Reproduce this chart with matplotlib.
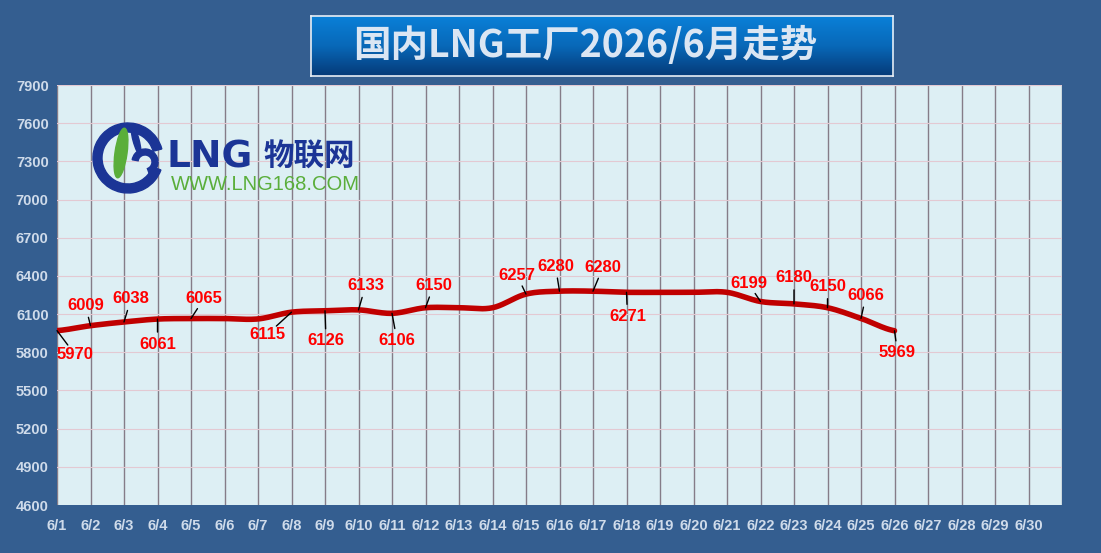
import numpy as np
import matplotlib
matplotlib.use("Agg")
import matplotlib.pyplot as plt
from matplotlib.patches import Wedge, Ellipse
from matplotlib.colors import LinearSegmentedColormap

days = [f"6/{d}" for d in range(1, 31)]
prices = [5970, 6009, 6038, 6061, 6065, 6065, 6062, 6115, 6126, 6133,
          6106, 6150, 6150, 6150, 6257, 6280, 6280, 6271, 6271, 6271,
          6271, 6199, 6180, 6150, 6066, 5969]
yticks = list(range(4600, 8000, 300))

# labelled points: index -> text offset in pixels
label_idx = [0, 1, 2, 3, 4, 7, 8, 9, 10, 11, 14, 15, 16, 17, 21, 22, 23, 24, 25]
label_off = {0: (18, -24), 1: (-5, 20), 2: (7, 23), 3: (0, -25), 4: (13, 20),
             7: (-24, -22), 8: (1, -30), 9: (7, 24), 10: (5, -27), 11: (8, 22),
             14: (-9, 19), 15: (-4, 25), 16: (10, 24), 17: (1, -24),
             21: (-12, 18), 22: (0, 26), 23: (0, 21), 24: (5, 23), 25: (3, -22)}

BG = "#345e90"
FACE = "#ddeff4"


def smooth(y, n=20):
    # Catmull-Rom spline through the points
    y = np.asarray(y, float)
    p = np.concatenate([[y[0]], y, [y[-1]]])
    xs, ys = [], []
    for i in range(len(y) - 1):
        p0, p1, p2, p3 = p[i], p[i + 1], p[i + 2], p[i + 3]
        t = np.linspace(0, 1, n, endpoint=False)
        v = 0.5 * ((2 * p1) + (-p0 + p2) * t + (2 * p0 - 5 * p1 + 4 * p2 - p3) * t ** 2
                   + (-p0 + 3 * p1 - 3 * p2 + p3) * t ** 3)
        xs.append(i + t)
        ys.append(v)
    xs.append([len(y) - 1])
    ys.append([y[-1]])
    return np.concatenate(xs), np.concatenate(ys)


fig = plt.figure(figsize=(11.01, 5.53), dpi=100, facecolor=BG)
W, H = 1101, 553


def fbox(x0, y0, x1, y1):
    return [x0 / W, 1 - y1 / H, (x1 - x0) / W, (y1 - y0) / H]


ax = fig.add_axes(fbox(57, 85, 1062, 505))
ax.set_facecolor(FACE)
ax.set_xlim(0, 30)
ax.set_ylim(4600, 7900)
ax.set_yticks(yticks)
ax.set_xticks(range(30))
ax.set_xticklabels(days)
for i in range(31):
    ax.axvline(i, color="#857c88", lw=1.0, zorder=1)
for v in yticks[1:]:
    ax.axhline(v, color="#e3c9d2", lw=0.8, zorder=1)
for s in ax.spines.values():
    s.set_visible(False)
ax.tick_params(length=0, colors="#cfdbea", labelsize=10.5, pad=6)
for t in ax.get_xticklabels() + ax.get_yticklabels():
    t.set_fontweight("bold")
    t.set_family("Liberation Sans")
ax.tick_params(axis="x", pad=10)

sx, sy = smooth(prices)
ax.plot(sx, sy, color="#c00000", lw=4, solid_capstyle="round", zorder=3)

for i in label_idx:
    dx, dy = label_off[i]
    ax.annotate(str(prices[i]), (i, prices[i]), xytext=(dx, dy),
                textcoords="offset pixels", ha="center", va="center",
                color="#ff0000", fontsize=12, fontweight="bold",
                family="Liberation Sans", zorder=5)
    # leader line from the point toward the label
    d = np.hypot(dx, dy)
    k = max(d - 12, 6) / d
    ax.annotate("", (i, prices[i]), xytext=(dx * k, dy * k),
                textcoords="offset pixels", zorder=6,
                arrowprops=dict(arrowstyle="-", color="black", lw=1.0,
                                shrinkA=0, shrinkB=0))

# title box
tax = fig.add_axes(fbox(311, 16, 893, 76))
grad = np.linspace(0, 1, 100).reshape(-1, 1)
cm = LinearSegmentedColormap.from_list("t", ["#0a80d8", "#0868b8", "#053a78"])
tax.imshow(grad, aspect="auto", cmap=cm, extent=(0, 1, 0, 1), origin="upper")
tax.set_xlim(0, 1)
tax.set_ylim(0, 1)
tax.set_xticks([])
tax.set_yticks([])
for s in tax.spines.values():
    s.set_color("#e8eef5")
    s.set_linewidth(1.2)
fig.text(585 / W, 1 - 45 / H, "国内LNG工厂2026/6月走势", ha="center", va="center",
         fontsize=27, fontweight="bold", color="#dbe6f3",
         family=["Noto Sans CJK SC", "DejaVu Sans"])

# logo
lax = fig.add_axes([0, 0, 1, 1], facecolor="none")
lax.set_xlim(0, W)
lax.set_ylim(H, 0)
lax.axis("off")
lax.add_patch(Wedge((128, 158), 35, 20, 345, width=9, color="#1b3596"))
lax.add_patch(Ellipse((121, 153), 12, 50, angle=8, color="#5aae3a"))
lax.add_patch(Wedge((145, 162), 13, 190, 70, width=6, color="#1b3596"))
lax.add_patch(Ellipse((136, 140), 6, 30, angle=-15, color="#1b3596"))
lax.text(167, 157, "LNG", ha="left", va="center", fontsize=27,
         fontweight="bold", color="#1b3596", family="DejaVu Sans")
lax.text(264, 157, "物联网", ha="left", va="center", fontsize=22,
         fontweight="bold", color="#1b3596", family="Noto Sans CJK SC")
lax.text(171, 184, "WWW.LNG168.COM", ha="left", va="center", fontsize=14.5,
         color="#5aae3a", family="Liberation Sans")

fig.savefig("out.png", dpi=100, facecolor=BG)
